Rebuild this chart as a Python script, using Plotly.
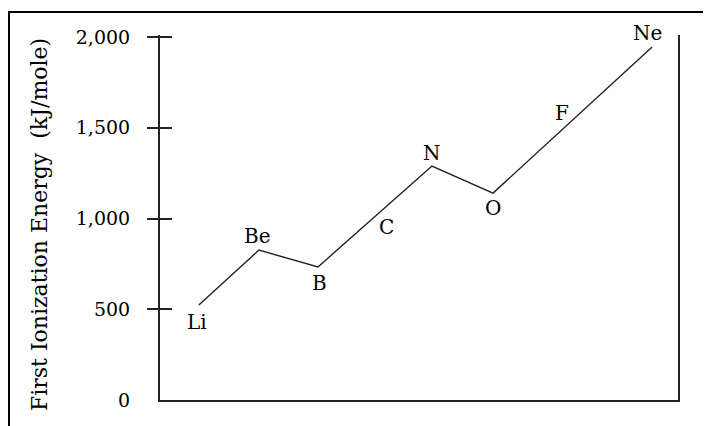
import plotly.graph_objects as go

# First ionization energies of the period 2 elements
elements = ['Li', 'Be', 'B', 'C', 'N', 'O', 'F', 'Ne']
x_pos = [0.75, 1.91, 3.05, 4.15, 5.25, 6.43, 7.95, 9.50]
energy = [523, 826, 733, 1011, 1289, 1140, 1540, 1945]
tick_vals = [0, 500, 1000, 1500, 2000]
tick_text = ['0', '500', '1,000', '1,500', '2,000']

# where each element name sits relative to its point (pixels)
label_shift = [(-2, -17), (-1, 14), (2, -16), (12, -10), (0, 13), (0, -15), (-10, 7), (-5, 14)]

font = 'DejaVu Serif'

fig = go.Figure()
fig.add_trace(go.Scatter(x=x_pos, y=energy, mode='lines',
                         line=dict(color='#222222', width=1.4), hoverinfo='skip'))

# element names beside the line
for name, xv, yv, (dx, dy) in zip(elements, x_pos, energy, label_shift):
    fig.add_annotation(x=xv, y=yv, text=name, showarrow=False,
                       xshift=dx, yshift=dy, font=dict(family=font, size=20, color='black'))

# y axis title
fig.add_annotation(xref='paper', yref='paper', x=-0.2336, y=0.482,
                   text='First Ionization Energy\u00a0 (kJ/mole)', textangle=-90,
                   showarrow=False, xanchor='center', yanchor='middle',
                   font=dict(family=font, size=22, color='black'))

# outer frame, running off the picture on the right and bottom
fig.add_shape(type='rect', xref='paper', yref='paper',
              x0=-0.2915, x1=1.2, y0=-0.3, y1=1.063,
              line=dict(color='black', width=2), fillcolor='rgba(0,0,0,0)')

# page has an 8px body margin, so the figure is a bit smaller than the window
fig.update_layout(
    width=703, height=418,
    margin=dict(l=152, r=33, t=27, b=26),
    paper_bgcolor='white', plot_bgcolor='white',
    showlegend=False,
    xaxis=dict(range=[0, 10], showticklabels=False, ticks='', showgrid=False,
               zeroline=False, showline=True, linecolor='#222222', linewidth=2),
    # inside ticks here; the one at 0 hides in the x axis line
    yaxis=dict(range=[0, 2011], tickvals=tick_vals, ticktext=tick_text,
               ticks='inside', ticklen=12, tickwidth=2, tickcolor='#222222',
               ticklabelstandoff=24, showgrid=False, zeroline=False,
               showline=True, mirror=True, linecolor='#222222', linewidth=2,
               tickfont=dict(family=font, size=19, color='black')),
    # second axis only for the outer half of the crossing ticks
    yaxis2=dict(range=[0, 2011], overlaying='y', side='left',
                tickvals=tick_vals[1:], ticks='outside', ticklen=12,
                tickwidth=2, tickcolor='#222222', showticklabels=False,
                showgrid=False, zeroline=False, showline=False),
)
fig.add_trace(go.Scatter(x=[None], y=[None], yaxis='y2', showlegend=False))

fig.write_html("out.html")
